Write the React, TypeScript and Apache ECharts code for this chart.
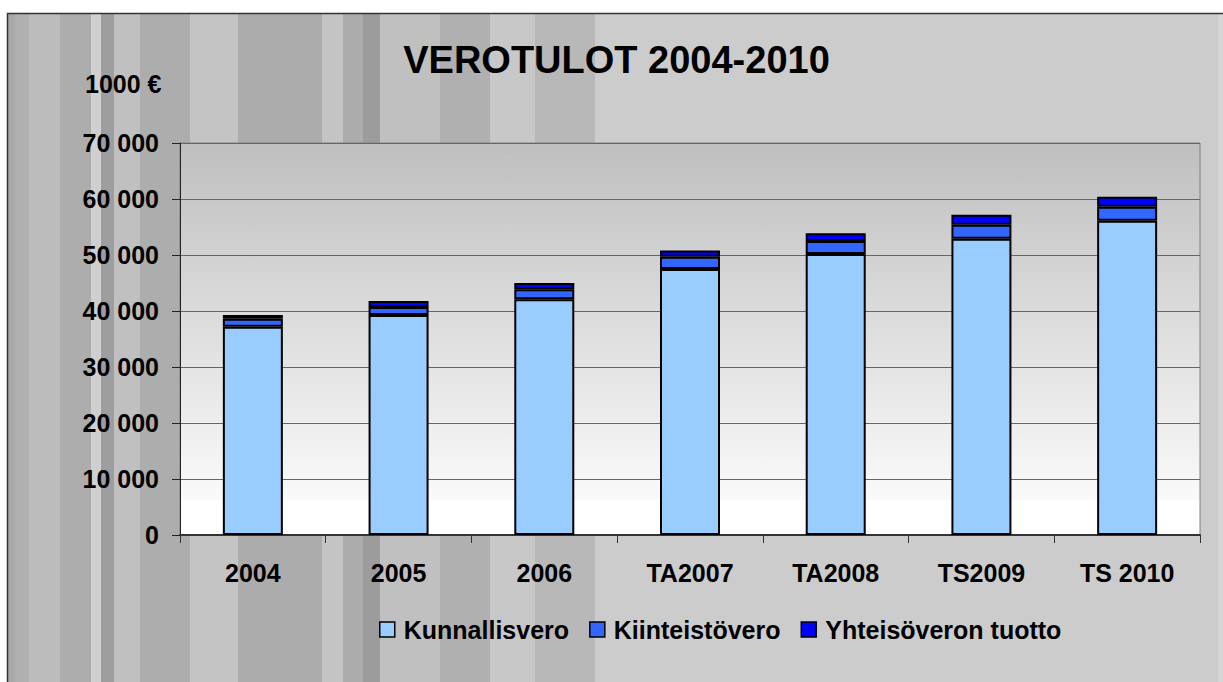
import React, { useEffect, useRef } from "react";
import * as echarts from "echarts";

// ---- data ----
const categories = ["2004", "2005", "2006", "TA2007", "TA2008", "TS2009", "TS 2010"];
const kunnallisvero = [37200, 39300, 42100, 47500, 50200, 52900, 56100];
const kiinteistovero = [1400, 1400, 1800, 2200, 2300, 2500, 2500];
const yhteisovero = [700, 1100, 1100, 1100, 1400, 1800, 1800];
const seriesNames = ["Kunnallisvero", "Kiinteistövero", "Yhteisöveron tuotto"];
const titleText = "VEROTULOT 2004-2010";
const unitText = "1000 €";
const yMin = 0;
const yMax = 70000;
const yInterval = 10000;

// ---- background decoration (vertical stripes) ----
const stripes: [number, number, string][] = [
  [8, 15, "#a8a8a8"], [15, 29, "#b0b0b0"], [29, 60, "#bcbcbc"], [60, 91, "#adadad"],
  [91, 101, "#d0d0d0"], [101, 114, "#9e9e9e"], [114, 140, "#c0c0c0"], [140, 190, "#adadad"],
  [190, 238, "#c4c4c4"], [238, 322, "#acacac"], [322, 343, "#c4c4c4"], [343, 363, "#acacac"],
  [363, 380, "#9c9c9c"], [380, 440, "#c0c0c0"], [440, 490, "#b0b0b0"], [490, 535, "#c8c8c8"],
  [535, 595, "#b8b8b8"],
];

const FONT = "'Liberation Sans', Arial, sans-serif";

function fmt(v: number): string {
  return String(v).replace(/\B(?=(\d{3})+(?!\d))/g, " ");
}

export default function App() {
  const ref = useRef<HTMLDivElement>(null);
  useEffect(() => {
    if (!ref.current) return;
    const chart = echarts.init(ref.current, undefined, { renderer: "svg" });
    const barStyle = (color: string) => ({
      color,
      borderColor: "#000",
      borderWidth: 2,
    });
    const graphic: any[] = [
      {
        type: "rect",
        z: -100,
        shape: { x: 7, y: 13, width: 1230, height: 700 },
        style: { fill: "#cccccc" },
      },
      ...stripes.map(([x0, x1, c]) => ({
        type: "rect",
        z: -99,
        shape: { x: x0, y: 14, width: x1 - x0, height: 690 },
        style: { fill: c },
      })),
      {
        type: "rect",
        z: -98,
        shape: { x: 1218, y: 14, width: 6, height: 690 },
        style: { fill: "#d6d6d6" },
      },
      {
        type: "rect",
        z: -97,
        shape: { x: 7.5, y: 13.5, width: 1230, height: 700 },
        style: { fill: "none", stroke: "#333", lineWidth: 1.5 },
      },
      {
        type: "text",
        z: 10,
        x: 616.5,
        y: 60,
        style: {
          text: titleText,
          fontFamily: FONT,
          fontSize: 38,
          fontWeight: "bold",
          fill: "#000",
          align: "center",
          verticalAlign: "middle",
        },
      },
      {
        type: "text",
        z: 10,
        x: 85,
        y: 84,
        style: {
          text: unitText,
          fontFamily: FONT,
          fontSize: 25,
          fontWeight: "bold",
          fill: "#000",
          align: "left",
          verticalAlign: "middle",
        },
      },
    ];
    chart.setOption({
      animation: false,
      backgroundColor: "#ffffff",
      textStyle: { fontFamily: FONT },
      graphic,
      grid: {
        left: 180,
        top: 143,
        right: 23,
        bottom: 147,
        show: true,
        borderColor: "#808080",
        borderWidth: 1,
        backgroundColor: new echarts.graphic.LinearGradient(0, 0, 0, 1, [
          { offset: 0, color: "#bfbfbf" },
          { offset: 0.91, color: "#fafafa" },
          { offset: 0.912, color: "#ffffff" },
          { offset: 1, color: "#ffffff" },
        ]),
      },
      legend: {
        left: 374,
        top: 612,
        padding: 5,
        itemWidth: 15,
        itemHeight: 15,
        itemGap: 20,
        icon: "rect",
        selectedMode: false,
        itemStyle: { borderColor: "#000", borderWidth: 1.5 },
        textStyle: {
          fontFamily: FONT,
          fontSize: 25,
          fontWeight: "bold",
          color: "#000",
          padding: [0, 0, 0, 4],
        },
        data: seriesNames,
      },
      xAxis: {
        type: "category",
        data: categories,
        boundaryGap: true,
        axisLine: { lineStyle: { color: "#333", width: 2 } },
        axisTick: { show: true, length: 8, lineStyle: { color: "#333", width: 1 } },
        axisLabel: {
          margin: 25,
          fontFamily: FONT,
          fontSize: 25,
          fontWeight: "bold",
          color: "#000",
        },
        splitLine: { show: false },
      },
      yAxis: {
        type: "value",
        min: yMin,
        max: yMax,
        interval: yInterval,
        axisLine: { show: true, lineStyle: { color: "#222", width: 1 } },
        axisTick: { show: true, length: 8, lineStyle: { color: "#222", width: 1 } },
        axisLabel: {
          margin: 21,
          fontFamily: FONT,
          fontSize: 25,
          fontWeight: "bold",
          color: "#000",
          formatter: (v: number) => fmt(v),
        },
        splitLine: { show: true, lineStyle: { color: "#666", width: 1.2 } },
      },
      series: [
        {
          name: seriesNames[0],
          type: "bar",
          stack: "total",
          barWidth: 60,
          data: kunnallisvero,
          itemStyle: barStyle("#99ccff"),
        },
        {
          name: seriesNames[1],
          type: "bar",
          stack: "total",
          barWidth: 60,
          data: kiinteistovero,
          itemStyle: barStyle("#3366ff"),
        },
        {
          name: seriesNames[2],
          type: "bar",
          stack: "total",
          barWidth: 60,
          data: yhteisovero,
          itemStyle: barStyle("#0000ff"),
        },
      ],
    });
    return () => chart.dispose();
  }, []);
  return (
    <div
      ref={ref}
      style={{ position: "fixed", left: 0, top: 0, width: 1223, height: 682 }}
    />
  );
}
